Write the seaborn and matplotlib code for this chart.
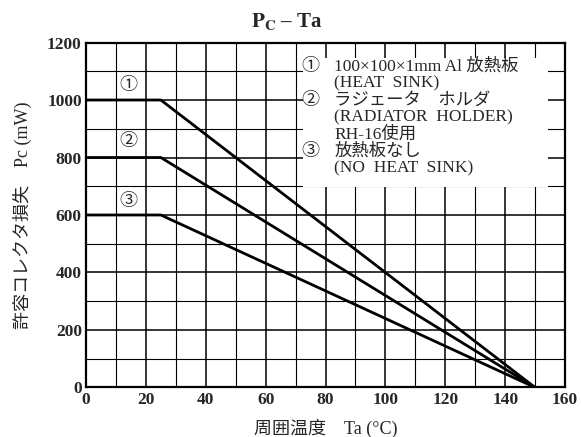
import pandas
import seaborn
import matplotlib.pyplot as plt
from matplotlib.patches import Rectangle
from matplotlib.ticker import MultipleLocator

# Derating curves
ta = [0, 25, 150]
pc_heat_sink = [1000, 1000, 0]
pc_radiator = [800, 800, 0]
pc_no_sink = [600, 600, 0]
curve_names = ['①', '②', '③']

legend_lines = [
    ('①', '100×100×1mm Al 放熱板'),
    ('', '(HEAT  SINK)'),
    ('②', 'ラジェータ　ホルダ'),
    ('', '(RADIATOR  HOLDER)'),
    ('', 'RH-16使用'),
    ('③', '放熱板なし'),
    ('', '(NO  HEAT  SINK)'),
]

rows = []
for name, values in zip(curve_names, [pc_heat_sink, pc_radiator, pc_no_sink]):
    for t, p in zip(ta, values):
        rows.append({'curve': name, 'Ta': t, 'Pc': p})
data = pandas.DataFrame(rows)

seaborn.set_theme(style='white')
plt.rcParams['font.family'] = ['Liberation Serif', 'Noto Sans CJK JP']
plt.rcParams['mathtext.fontset'] = 'stix'

fig = plt.figure(figsize=(5.81, 4.37), dpi=100)
ax = fig.add_axes([0.148, 0.1133, 0.8245, 0.7894])

seaborn.lineplot(data=data, x='Ta', y='Pc', hue='curve',
                 palette=['black'] * 3, linewidth=2.0, sort=False,
                 legend=False, ax=ax, zorder=3)

ax.set_xlim(0, 160)
ax.set_ylim(0, 1200)
ax.xaxis.set_major_locator(MultipleLocator(20))
ax.xaxis.set_minor_locator(MultipleLocator(10))
ax.yaxis.set_major_locator(MultipleLocator(200))
ax.yaxis.set_minor_locator(MultipleLocator(100))
ax.grid(which='major', color='black', linewidth=1.1)
ax.grid(which='minor', color='black', linewidth=0.8)
ax.tick_params(which='both', length=0)
ax.tick_params(axis='x', pad=3.5, labelsize=12.5)
ax.tick_params(axis='y', pad=3, labelsize=12.5)
for lab in ax.get_xticklabels() + ax.get_yticklabels():
    lab.set_fontweight('bold')
for s in ax.spines.values():
    s.set_color('black')
    s.set_linewidth(1.6)

ax.set_xlabel('周囲温度　Ta (°C)', fontsize=13)
ax.set_ylabel('許容コレクタ損失　Pc (mW)', fontsize=13)
ax.xaxis.set_label_coords(0.5, -0.092)
ax.yaxis.set_label_coords(-0.113, 0.5)

fig.text(0.494, 0.95, r'$\mathbf{P_C}$ – Ta', ha='center', va='center',
         fontsize=15, fontweight='bold')

# circled numbers above the flat parts
for name, y in zip(curve_names, [1050, 855, 648]):
    ax.text(14, y, name, ha='center', va='center', fontsize=13, zorder=4)

# white legend block hiding the grid
ax.add_patch(Rectangle((72.5, 697), 81.8, 449, facecolor='white',
                       edgecolor='none', zorder=2.5))
y = 1115
for mark, txt in legend_lines:
    if mark:
        ax.text(74.8, y, mark, ha='center', va='center', fontsize=13, zorder=4)
    ax.text(83.0, y, txt, ha='left', va='center', fontsize=12.5, zorder=4)
    y -= 58.7

fig.savefig('out.png', dpi=100)
